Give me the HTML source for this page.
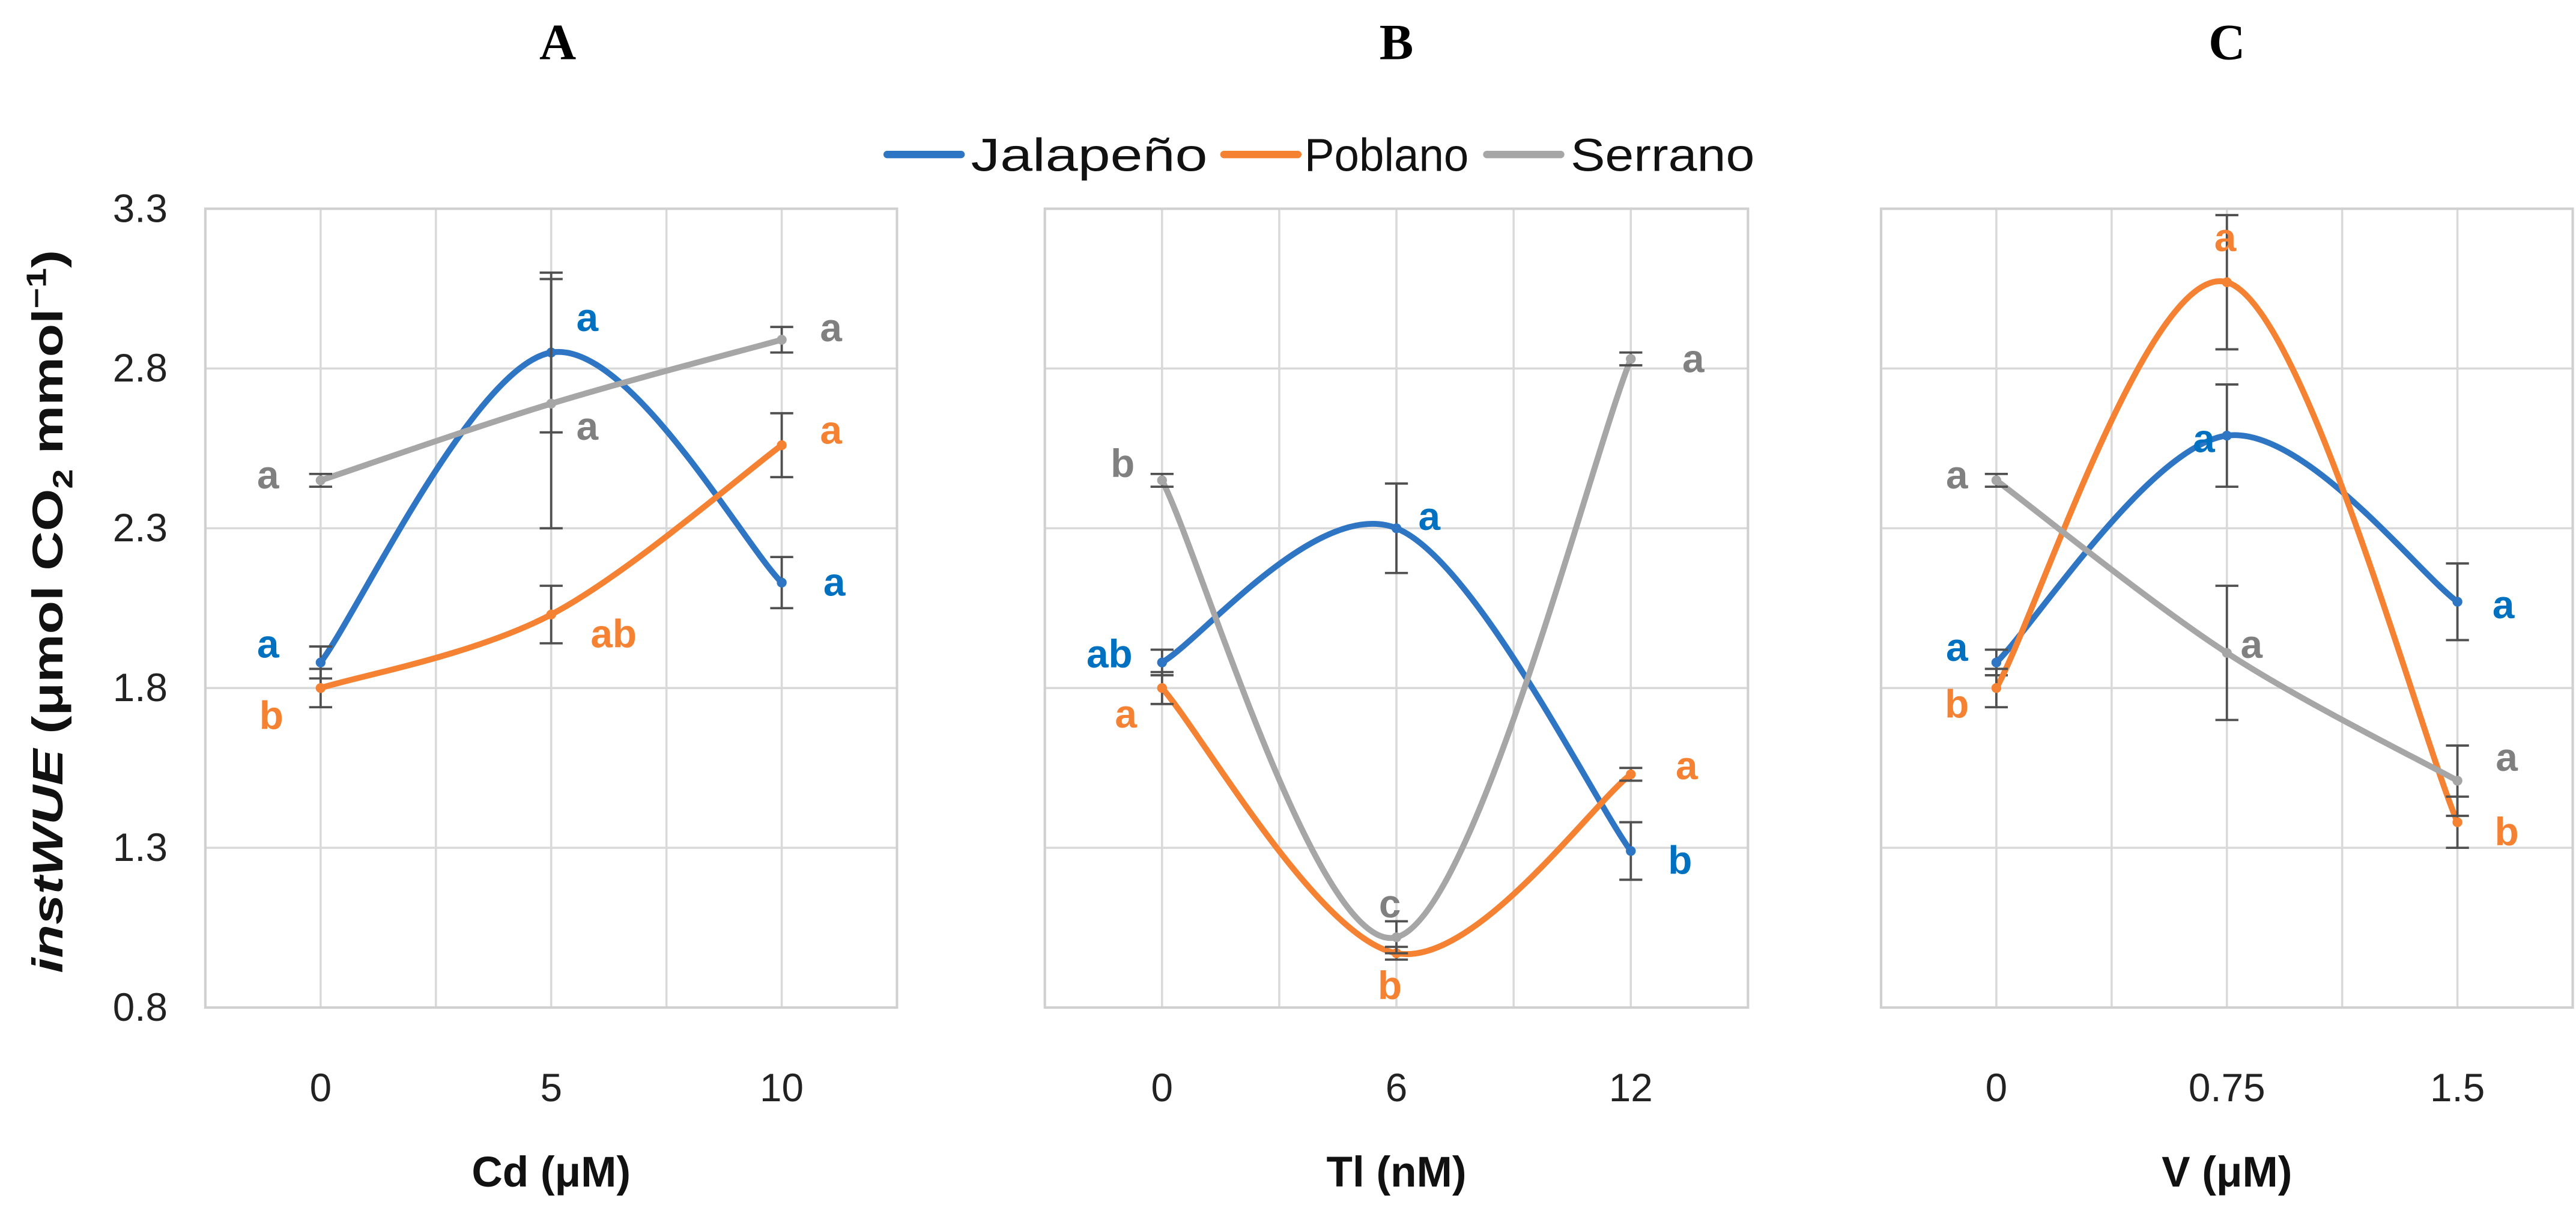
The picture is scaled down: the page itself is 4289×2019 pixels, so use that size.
<!DOCTYPE html>
<html><head><meta charset="utf-8"><style>
html,body{margin:0;padding:0;background:#fff}
svg{display:block}
text{font-family:"Liberation Sans",sans-serif}
</style></head><body>
<svg id="chart" width="4289" height="2019" viewBox="0 0 1568 738" preserveAspectRatio="none" xmlns="http://www.w3.org/2000/svg">
<g id="root"></g>
</svg>
<script>
const seriesNames = ["Jalapeño","Poblano","Serrano"];
const yTicks = [0.8,1.3,1.8,2.3,2.8,3.3];
const panelLetters = ["A","B","C"];
const catsA = ["0","5","10"];
const catsB = ["0","6","12"];
const catsC = ["0","0.75","1.5"];
const xTitles = ["Cd (μM)","Tl (nM)","V (μM)"];
const jalA = [1.88,2.85,2.13], pobA = [1.80,2.03,2.56], serA = [2.45,2.69,2.89];
const jalAErr = [0.05,0.25,0.08], pobAErr = [0.06,0.09,0.10], serAErr = [0.02,0.39,0.04];
const jalB = [1.88,2.30,1.29], pobB = [1.80,0.97,1.53], serB = [2.45,1.02,2.83];
const jalBErr = [0.04,0.14,0.09], pobBErr = [0.05,0.02,0.02], serBErr = [0.02,0.05,0.02];
const jalC = [1.88,2.59,2.07], pobC = [1.80,3.07,1.38], serC = [2.45,1.91,1.51];
const jalCErr = [0.04,0.16,0.12], pobCErr = [0.06,0.21,0.08], serCErr = [0.02,0.21,0.11];
const lettersA = [["a","a","a"],["b","ab","a"],["a","a","a"]];
const lettersB = [["ab","a","b"],["a","b","a"],["b","c","a"]];
const lettersC = [["a","a","a"],["b","a","b"],["a","a","a"]];
const offA = [[[-32,-11],[22,-21],[32,0]],[[-30,17],[38,12],[30,-9]],[[-32,-3],[22,14],[30,-7]]];
const offB = [[[-32,-5],[20,-7],[30,6]],[[-22,16],[-4,20],[34,-5]],[[-24,-10],[-4,-20],[38,0]]];
const offC = [[[-24,-9],[-14,2],[28,2]],[[-24,10],[-1,-27],[30,6]],[[-24,-3],[15,-5],[30,-14]]];

const lineCol = ["#2e75c4","#f58232","#a6a6a6"];
const txtCol = ["#0070c0","#f58232","#808080"];
const panels = [
 {x0:125,x1:546,cats:catsA,vals:[jalA,pobA,serA],errs:[jalAErr,pobAErr,serAErr],lab:lettersA,off:offA},
 {x0:636,x1:1064,cats:catsB,vals:[jalB,pobB,serB],errs:[jalBErr,pobBErr,serBErr],lab:lettersB,off:offB},
 {x0:1145,x1:1566,cats:catsC,vals:[jalC,pobC,serC],errs:[jalCErr,pobCErr,serCErr],lab:lettersC,off:offC}
];
const yTop=127,yBot=613,yMin=0.8,yMax=3.3;
function yS(v){return yBot-(v-yMin)/(yMax-yMin)*(yBot-yTop);}
function xS(p,i){const w=(p.x1-p.x0)/6;return p.x0+w*(1+2*i);}
const NS="http://www.w3.org/2000/svg";
const root=document.getElementById('root');
function mk(tag,attrs,parent){const e=document.createElementNS(NS,tag);for(const k in attrs)e.setAttribute(k,attrs[k]);(parent||root).appendChild(e);return e;}
function smooth(pts){
  let d=`M${pts[0][0]},${pts[0][1]}`;
  for(let i=0;i<pts.length-1;i++){
    const p0=pts[i-1]||pts[i],p1=pts[i],p2=pts[i+1],p3=pts[i+2]||pts[i+1];
    const c1=[p1[0]+(p2[0]-p0[0])/6,p1[1]+(p2[1]-p0[1])/6];
    const c2=[p2[0]-(p3[0]-p1[0])/6,p2[1]-(p3[1]-p1[1])/6];
    d+=` C${c1[0]},${c1[1]} ${c2[0]},${c2[1]} ${p2[0]},${p2[1]}`;
  }
  return d;
}
yTicks.forEach(v=>{
  const t=mk('text',{x:102,y:yS(v)+8,'text-anchor':'end','font-size':24,fill:'#222'});
  t.textContent=v.toFixed(1);
  
  
});
const yt=mk('text',{transform:'translate(38,372) rotate(-90)','text-anchor':'middle','font-size':26,'font-weight':'bold',fill:'#111',textLength:440,lengthAdjust:'spacingAndGlyphs'});


yt.innerHTML='<tspan font-style="italic">instWUE</tspan> (μmol CO<tspan font-size="17" dy="6">2</tspan><tspan dy="-6"> mmol</tspan><tspan font-size="17" dy="-10">−1</tspan><tspan dy="10">)</tspan>';

panels.forEach((p,pi)=>{
  const g=mk('g',{});
  
  
  const w=(p.x1-p.x0)/6;
  for(let k=1;k<6;k++){const l=mk('line',{x1:p.x0+w*k,x2:p.x0+w*k,y1:yTop,y2:yBot,stroke:'#d9d9d9','stroke-width':1.3},g);}
  yTicks.forEach(v=>{const l=mk('line',{x1:p.x0,x2:p.x1,y1:yS(v),y2:yS(v),stroke:'#d9d9d9','stroke-width':1.3},g);});
  const b=mk('rect',{x:p.x0,y:yTop,width:p.x1-p.x0,height:yBot-yTop,fill:'none',stroke:'#d0d0d0','stroke-width':1.5},g);
  
  
  const pl=mk('text',{x:(p.x0+p.x1)/2+((pi==0)?4:0),y:36,'text-anchor':'middle','font-size':31,'font-weight':'bold',fill:'#000',style:'font-family:"Liberation Serif",serif'},g);
  pl.textContent=panelLetters[pi];
  
  
  p.cats.forEach((c,i)=>{const t=mk('text',{x:xS(p,i),y:670,'text-anchor':'middle','font-size':24,fill:'#222'},g);t.textContent=c;});
  const xt=mk('text',{x:xS(p,1),y:722,'text-anchor':'middle','font-size':26,'font-weight':'bold',fill:'#111'},g);
  xt.textContent=xTitles[pi];
  
  
  p.vals.forEach((vals,si)=>{
    const pts=vals.map((v,i)=>[xS(p,i),yS(v)]);
    const path=mk('path',{d:smooth(pts),fill:'none',stroke:lineCol[si],'stroke-width':3.6,'stroke-linecap':'round'},g);
    
    
    vals.forEach((v,i)=>{
      const x=xS(p,i),e=p.errs[si][i];
      const eg=mk('g',{stroke:'#505050','stroke-width':1.4},g);
      
      
      mk('line',{x1:x,x2:x,y1:yS(v+e),y2:yS(v-e)},eg);
      mk('line',{x1:x-7,x2:x+7,y1:yS(v+e),y2:yS(v+e)},eg);
      mk('line',{x1:x-7,x2:x+7,y1:yS(v-e),y2:yS(v-e)},eg);
      const dot=mk('circle',{cx:x,cy:yS(v),r:3,fill:lineCol[si]},g);
      
      
      const o=p.off[si][i];
      const lt=mk('text',{x:x+o[0],y:yS(v)+o[1]+8,'text-anchor':'middle','font-size':24,'font-weight':'bold',fill:txtCol[si]},g);
      lt.textContent=p.lab[si][i];
      
      
    });
  });
});
const legX=[[540,585,591,144],[745,790,794,100],[905,950,956,112]];
seriesNames.forEach((n,i)=>{
  const lg=mk('g',{});
  
  
  mk('line',{x1:legX[i][0],x2:legX[i][1],y1:94,y2:94,stroke:lineCol[i],'stroke-width':4.5,'stroke-linecap':'round'},lg);
  const t=mk('text',{x:legX[i][2],y:104,'font-size':28,fill:'#111',textLength:legX[i][3],lengthAdjust:'spacingAndGlyphs'},lg);
  t.textContent=n;
});
</script>
</body></html>
